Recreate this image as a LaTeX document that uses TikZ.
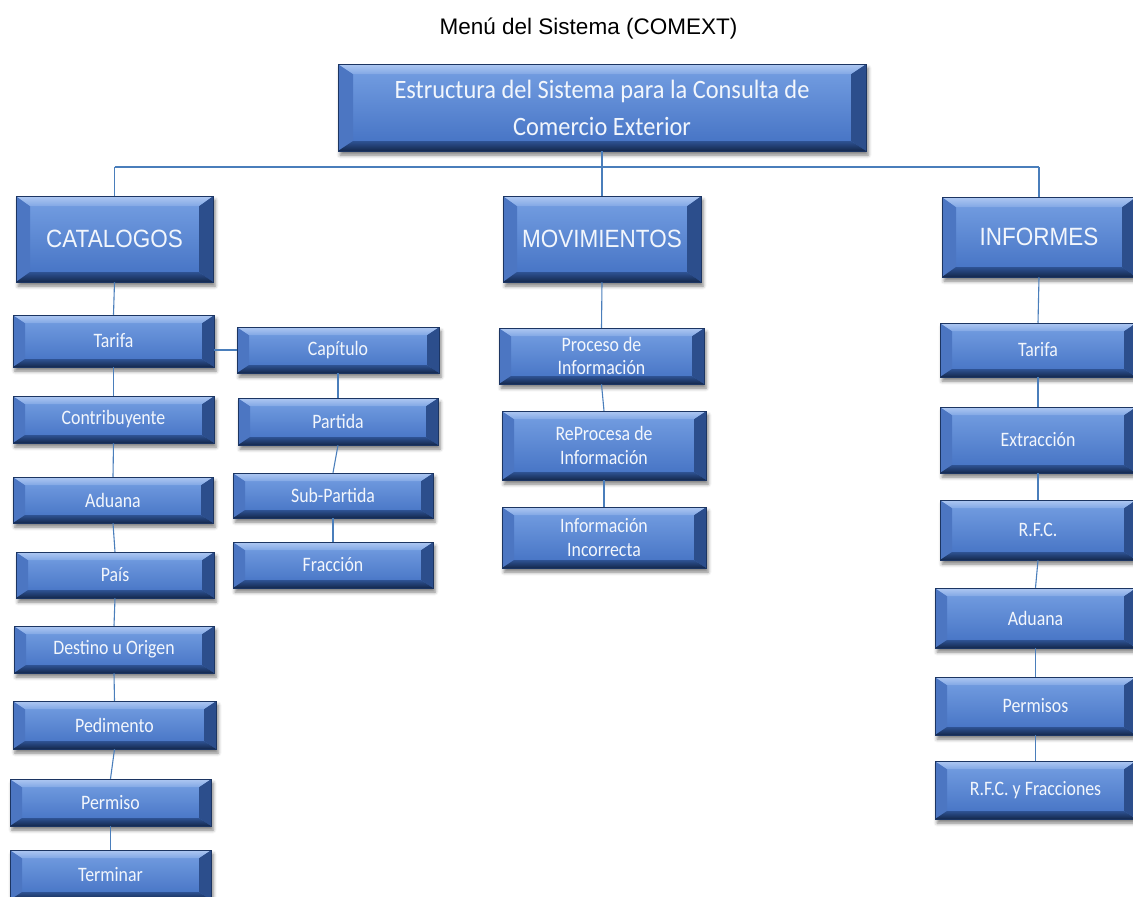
\documentclass[tikz,border=0pt]{standalone}
\usepackage{fontspec}
\setmainfont{Carlito}
\newfontfamily\arialfont{Liberation Sans}
\newfontfamily\arialnarrow[FakeStretch=0.9]{Liberation Sans}
\newfontfamily\itemfont[FakeStretch=0.87]{Carlito}
\newfontfamily\rootfont[FakeStretch=0.92]{Carlito}
\usetikzlibrary{shadows.blur}

% button colours
\definecolor{faceTop}{HTML}{76A0E3}
\definecolor{faceBot}{HTML}{4270C2}
\definecolor{bevTopA}{HTML}{AFC8F2}
\definecolor{bevTopB}{HTML}{82A8E5}
\definecolor{bevBotA}{HTML}{2E5293}
\definecolor{bevBotB}{HTML}{14284C}
\definecolor{bevLeft}{HTML}{4C76C2}
\definecolor{bevRight}{HTML}{2C4E8C}
\definecolor{edgeCol}{HTML}{1C3562}
\definecolor{btnText}{HTML}{F2F6FC}
\definecolor{connCol}{HTML}{4A7EBB}

\def\bevx{12pt}
\def\bevy{8pt}

\tikzset{
  bevel/.code 2 args={\def\bevx{#1}\def\bevy{#2}},
  btn/.style={
    rectangle, draw=edgeCol, line width=0.5pt,
    top color=faceTop, bottom color=faceBot,
    text=btnText, align=center, inner sep=0pt,
    blur shadow={shadow xshift=2pt, shadow yshift=-4pt,
                 shadow blur radius=3.5pt, shadow opacity=50},
    path picture={
      \coordinate (@nw) at (path picture bounding box.north west);
      \coordinate (@ne) at (path picture bounding box.north east);
      \coordinate (@sw) at (path picture bounding box.south west);
      \coordinate (@se) at (path picture bounding box.south east);
      \coordinate (@inw) at ([shift={(\bevx,-\bevy)}]@nw);
      \coordinate (@ine) at ([shift={(-\bevx,-\bevy)}]@ne);
      \coordinate (@isw) at ([shift={(\bevx,\bevy)}]@sw);
      \coordinate (@ise) at ([shift={(-\bevx,\bevy)}]@se);
      \fill[bevLeft] (@nw) -- (@inw) -- (@isw) -- (@sw) -- cycle;
      \fill[bevRight] (@ne) -- (@ine) -- (@ise) -- (@se) -- cycle;
      \shade[top color=bevTopA, bottom color=bevTopB]
        (@nw) -- (@ne) -- (@ine) -- (@inw) -- cycle;
      \shade[top color=bevBotA, bottom color=bevBotB]
        (@sw) -- (@se) -- (@ise) -- (@isw) -- cycle;
    }
  },
  rootbox/.style={btn, bevel={15pt}{10pt},
    font=\rootfont\fontsize{26.5}{37}\selectfont},
  catbox/.style={btn, bevel={14pt}{10pt},
    font=\arialnarrow\fontsize{25}{29}\selectfont},
  itembox/.style={btn, font=\itemfont\fontsize{20.5}{23.5}\selectfont},
  sz/.style 2 args={minimum width=#1pt, minimum height=#2pt},
  conn/.style={draw=connCol, line width=1.1pt},
}

\begin{document}
\begin{tikzpicture}[x=1pt, y=-1pt]
\useasboundingbox (0,0) rectangle (1133,897);

% heading
\node[font=\arialfont\fontsize{22.5}{27}\selectfont, anchor=base, inner sep=0pt]
  (title) at (588.5,34) {Menú del Sistema (COMEXT)};

% root and the three menus
\node[rootbox, sz={528}{87}] (root) at (602,107.5)
  {Estructura del Sistema para la Consulta de\\Comercio Exterior};
\node[catbox, sz={197}{86}] (cat) at (114.5,239) {CATALOGOS};
\node[catbox, sz={198}{86}] (mov) at (602,239) {MOVIMIENTOS};
\node[catbox, sz={194}{80}] (inf) at (1039,237) {INFORMES};

% CATALOGOS column
\node[itembox, sz={201}{52}] (c1) at (113.5,341) {Tarifa};
\node[itembox, sz={201}{47}] (c2) at (113.5,419.5) {Contribuyente};
\node[itembox, sz={200}{46}] (c3) at (113,500) {Aduana};
\node[itembox, sz={198}{46}] (c4) at (115,575) {País};
\node[itembox, sz={200}{47}] (c5) at (114,649.5) {Destino u Origen};
\node[itembox, sz={203}{48}] (c6) at (114.5,725) {Pedimento};
\node[itembox, sz={201}{47}] (c7) at (110.5,802.5) {Permiso};
\node[itembox, sz={201}{50}] (c8) at (110.5,875) {Terminar};

% Tarifa sub-column
\node[itembox, sz={202}{46}] (t1) at (338,350) {Capítulo};
\node[itembox, sz={200}{47}] (t2) at (338,421.5) {Partida};
\node[itembox, sz={200}{45}] (t3) at (333,495.5) {Sub-Partida};
\node[itembox, sz={200}{46}] (t4) at (333,565) {Fracción};

% MOVIMIENTOS column
\node[itembox, sz={205}{56}] (m1) at (601.5,356) {Proceso de\\Información};
\node[itembox, sz={204}{69}] (m2) at (604,445.5) {ReProcesa de\\Información};
\node[itembox, sz={204}{61}] (m3) at (604,537.5) {Información\\Incorrecta};

% INFORMES column
\node[itembox, sz={196}{54}] (i1) at (1038,350) {Tarifa};
\node[itembox, sz={196}{66}] (i2) at (1038,440) {Extracción};
\node[itembox, sz={196}{60}] (i3) at (1038,530) {R.F.C.};
\node[itembox, sz={201}{60}] (i4) at (1035.5,618) {Aduana};
\node[itembox, sz={201}{58}] (i5) at (1035.5,706) {Permisos};
\node[itembox, sz={201}{58}] (i6) at (1035.5,790) {R.F.C. y Fracciones};

% connectors
\coordinate (busL) at (114.5,167);
\coordinate (busR) at (1039,167);
\draw[conn] (root.south) -- (root.south |- busL);
\draw[conn] (busL) -- (busR);
\draw[conn] (busL) -- (cat.north);
\draw[conn] (root.south |- busL) -- (mov.north);
\draw[conn] (busR) -- (inf.north);

\draw[conn] (cat.south) -- (c1.north);
\draw[conn] (c1.south) -- (c2.north);
\draw[conn] (c2.south) -- (c3.north);
\draw[conn] (c3.south) -- (c4.north);
\draw[conn] (c4.south) -- (c5.north);
\draw[conn] (c5.south) -- (c6.north);
\draw[conn] (c6.south) -- (c7.north);
\draw[conn] (c7.south) -- (c8.north);

\draw[conn] (t1.west) -- (t1.west -| c1.east);
\draw[conn] (t1.south) -- (t2.north);
\draw[conn] (t2.south) -- (t3.north);
\draw[conn] (t3.south) -- (t4.north);

\draw[conn] (mov.south) -- (m1.north);
\draw[conn] (m1.south) -- (m2.north);
\draw[conn] (m2.south) -- (m3.north);

\draw[conn] (inf.south) -- (i1.north);
\draw[conn] (i1.south) -- (i2.north);
\draw[conn] (i2.south) -- (i3.north);
\draw[conn] (i3.south) -- (i4.north);
\draw[conn] (i4.south) -- (i5.north);
\draw[conn] (i5.south) -- (i6.north);
\end{tikzpicture}
\end{document}
